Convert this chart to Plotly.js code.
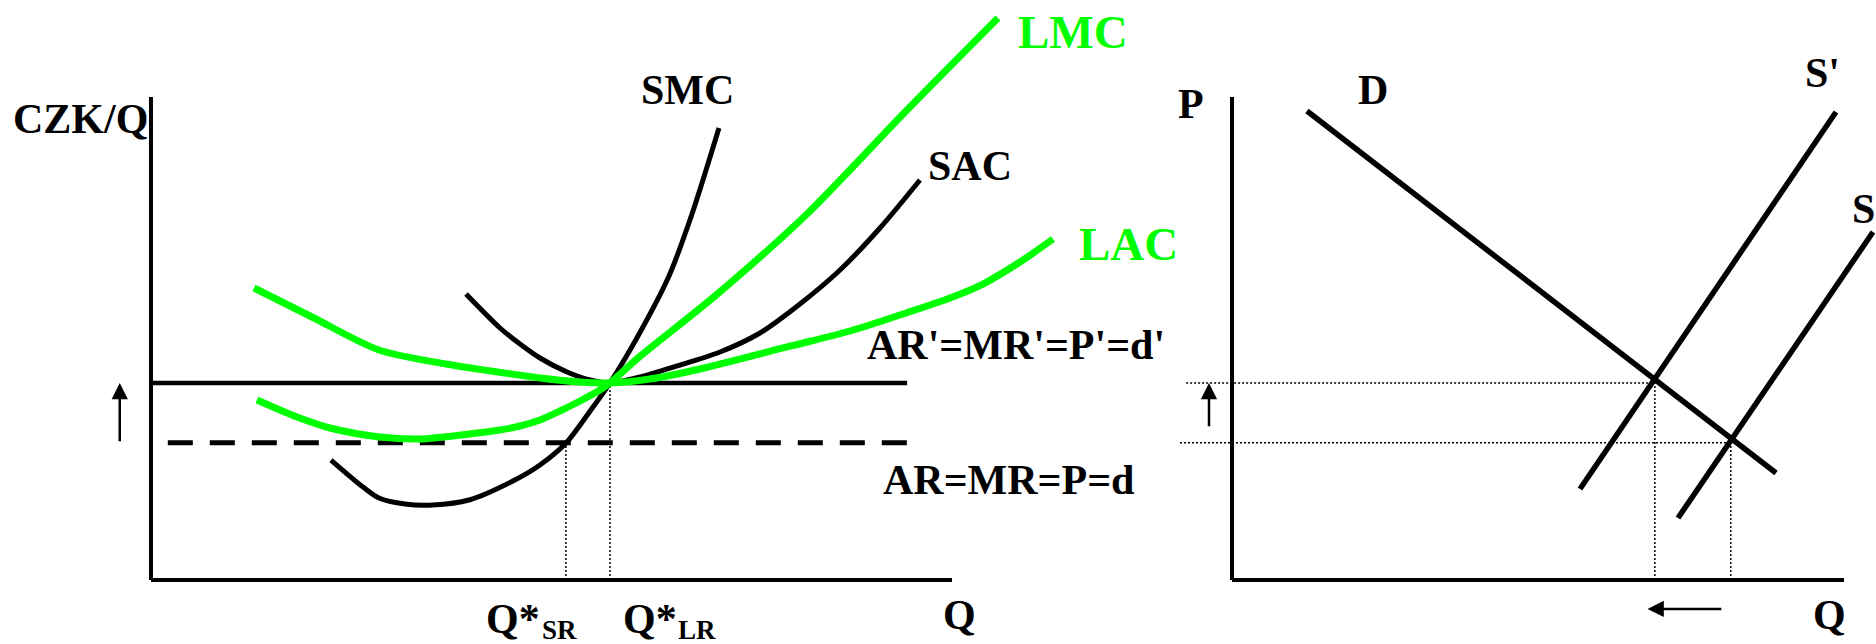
<!DOCTYPE html>
<html>
<head>
<meta charset="utf-8">
<script src="https://cdn.plot.ly/plotly-3.0.1.min.js"></script>
<style>html,body{margin:0;padding:0;background:#fff;}#chart{width:1876px;height:644px;}</style>
</head>
<body>
<div id="chart"></div>
<script>
// ---------- LEFT PANEL: firm cost curves (x = Q, y = CZK/Q) ----------
const pHigh = 40.8;   // P' level (AR'=MR'=P'=d')
const pLow  = 28.4;   // P level  (AR=MR=P=d)
const qSR = 51.8;     // Q*_SR
const qLR = 57.3;     // Q*_LR

const lacX = [12.86, 20.10, 28.46, 36.83, 42.45, 48.56, 53.56, 57.30, 62.30, 68.54, 79.90, 87.27, 94.26, 99.75, 103.87, 108.49, 112.61];
const lacY = [60.46, 54.45, 47.62, 44.72, 43.27, 41.82, 40.99, 40.79, 41.61, 43.69, 48.45, 51.55, 55.28, 58.39, 61.28, 65.84, 70.60];

const lmcX = [13.23, 18.23, 22.35, 28.59, 33.58, 39.70, 43.57, 46.07, 48.56, 51.06, 53.56, 56.05, 57.30, 60.80, 70.41, 81.90, 94.26, 105.74];
const lmcY = [37.27, 33.75, 31.47, 29.61, 29.19, 30.23, 31.06, 31.88, 33.13, 34.99, 37.06, 39.34, 40.79, 45.96, 58.80, 75.78, 97.10, 116.36];

const sacX = [39.33, 43.57, 46.07, 48.56, 51.94, 54.81, 57.30, 61.05, 65.67, 71.04, 76.03, 81.02, 86.02, 91.01, 96.00];
const sacY = [59.21, 52.17, 48.86, 45.96, 43.06, 41.41, 40.79, 42.03, 44.31, 47.20, 51.14, 57.14, 64.18, 72.88, 82.82];

const smcX = [22.47, 26.47, 28.46, 31.71, 35.21, 39.70, 45.19, 48.56, 51.81, 54.56, 57.30, 60.80, 64.67, 67.54, 70.91];
const smcY = [24.84, 19.25, 16.98, 15.73, 15.53, 16.56, 20.50, 23.81, 28.36, 34.37, 40.79, 50.52, 62.94, 75.78, 93.58];

const priceLineX  = [0, 94.4];     // AR'=MR'=P'=d'
const dashedLineX = [2.1, 94.4];   // AR=MR=P=d

// ---------- RIGHT PANEL: market (x = Q, y = P) ----------
const demandX = [12.25, 88.89];
const demandY = [97.10, 22.15];
const supplyNewX = [56.86, 98.69];   // S'
const supplyNewY = [18.84, 96.89];
const supplyOldX = [72.88, 104.74];  // S
const supplyOldY = [12.84, 72.05];
const qNew = 69.1;   // market quantity after shift
const qOld = 81.5;   // market quantity before shift
const guideStartNew = -7.5;
const guideStartOld = -8.5;

const axisSpan = [0, 100];
const zeroPair = [0, 0];

const labelTexts = {
  yLeft: "CZK/Q", smc: "SMC", sac: "SAC", lmc: "LMC", lac: "LAC",
  arHigh: "AR'=MR'=P'=d'", arLow: "AR=MR=P=d",
  qStar: "Q*", sr: "SR", lr: "LR", qLeft: "Q",
  pRight: "P", d: "D", sNew: "S'", sOld: "S", qRight: "Q"
};

// ---------- styles ----------
const BLACK = '#000000';
const GREEN = '#00FF00';
const W = 1876, H = 644;
const FONT = 'Liberation Serif, Times New Roman, serif';

function line(x, y, color, width, opts) {
  const o = opts || {};
  return {
    type: 'scatter', mode: 'lines', x: x, y: y,
    xaxis: o.xaxis || 'x', yaxis: o.yaxis || 'y',
    line: {color: color, width: width, dash: o.dash || 'solid', shape: o.shape || 'linear', smoothing: o.smoothing || 1},
    hoverinfo: 'skip'
  };
}
const R = {xaxis: 'x2', yaxis: 'y2'};
const dot = '2px,2px';

const traces = [
  // left axes
  line(axisSpan, zeroPair, BLACK, 4),
  line(zeroPair, axisSpan, BLACK, 4),
  // guides
  line([qSR, qSR], [0, pLow], BLACK, 1.5, {dash: dot}),
  line([qLR, qLR], [0, pHigh], BLACK, 1.5, {dash: dot}),
  // price lines
  line(priceLineX, [pHigh, pHigh], BLACK, 4.5),
  line(dashedLineX, [pLow, pLow], BLACK, 5, {dash: '25px,17px'}),
  // curves
  line(smcX, smcY, BLACK, 5, {shape: 'spline', smoothing: 0.8}),
  line(sacX, sacY, BLACK, 5, {shape: 'spline', smoothing: 0.8}),
  line(lacX, lacY, GREEN, 7, {shape: 'spline', smoothing: 0.8}),
  line(lmcX, lmcY, GREEN, 7, {shape: 'spline', smoothing: 0.8}),
  // right axes
  line(axisSpan, zeroPair, BLACK, 4, R),
  line(zeroPair, axisSpan, BLACK, 4, R),
  // right guides
  line([guideStartNew, qNew], [pHigh, pHigh], BLACK, 1.5, Object.assign({dash: dot}, R)),
  line([guideStartOld, qOld], [pLow, pLow], BLACK, 1.5, Object.assign({dash: dot}, R)),
  line([qNew, qNew], [0, pHigh], BLACK, 1.5, Object.assign({dash: dot}, R)),
  line([qOld, qOld], [0, pLow], BLACK, 1.5, Object.assign({dash: dot}, R)),
  // D, S', S
  line(demandX, demandY, BLACK, 5.5, R),
  line(supplyNewX, supplyNewY, BLACK, 5.5, R),
  line(supplyOldX, supplyOldY, BLACK, 5.5, R)
];

function label(text, left, baseline, size, color) {
  return {
    xref: 'paper', yref: 'paper', x: left / W, y: 1 - (baseline - 0.891 * size) / H,
    xanchor: 'left', yanchor: 'top', text: '<b>' + text + '</b>', showarrow: false,
    borderpad: 0, font: {family: FONT, size: size, color: color || BLACK, weight: 'bold'}
  };
}
function arrow(xref, yref, x, y, ax, ay) {
  return {
    xref: xref, yref: yref, axref: xref, ayref: yref, x: x, y: y, ax: ax, ay: ay,
    text: '', showarrow: true, arrowhead: 2, arrowsize: 1.3, arrowwidth: 2.5,
    arrowcolor: BLACK, standoff: 0, startstandoff: 0
  };
}

const annotations = [
  label(labelTexts.yLeft, 12, 132, 42),
  label(labelTexts.smc, 640, 103, 42),
  label(labelTexts.sac, 927, 179, 42),
  label(labelTexts.lmc, 1017, 47, 47, GREEN),
  label(labelTexts.lac, 1078, 259, 47, GREEN),
  label(labelTexts.arHigh, 866, 358, 42),
  label(labelTexts.arLow, 882, 493, 42),
  label(labelTexts.qStar, 485, 632, 42),
  label(labelTexts.sr, 541, 638, 27),
  label(labelTexts.qStar, 622, 632, 42),
  label(labelTexts.lr, 677, 638, 27),
  label(labelTexts.qLeft, 942, 628, 42),
  label(labelTexts.pRight, 1177, 117, 42),
  label(labelTexts.d, 1357, 103, 42),
  label(labelTexts.sNew, 1804, 86, 42),
  label(labelTexts.sOld, 1851, 222, 42),
  label(labelTexts.qRight, 1812, 628, 42),
  arrow('x', 'y', -3.9, pHigh, -3.9, pLow),
  arrow('x2', 'y2', -3.76, pHigh, -3.76, 31.5),
  arrow('x2', 'y2', 67.9, -6.0, 80.2, -6.0)
];

const hidden = {visible: false, showgrid: false, zeroline: false, fixedrange: true};
const layout = {
  width: W, height: H,
  margin: {l: 0, r: 0, t: 0, b: 0, pad: 0},
  paper_bgcolor: '#ffffff', plot_bgcolor: '#ffffff',
  showlegend: false,
  xaxis: Object.assign({domain: [0, 1150 / W], range: [-18.85, 124.72], anchor: 'y'}, hidden),
  yaxis: Object.assign({domain: [0, 1], range: [-13.25, 120.08], anchor: 'x'}, hidden),
  xaxis2: Object.assign({domain: [1150 / W, 1], range: [-13.40, 105.23], anchor: 'y2'}, hidden),
  yaxis2: Object.assign({domain: [0, 1], range: [-13.25, 120.08], anchor: 'x2'}, hidden),
  annotations: annotations
};

Plotly.newPlot('chart', traces, layout, {staticPlot: true, displayModeBar: false});
</script>
</body>
</html>
